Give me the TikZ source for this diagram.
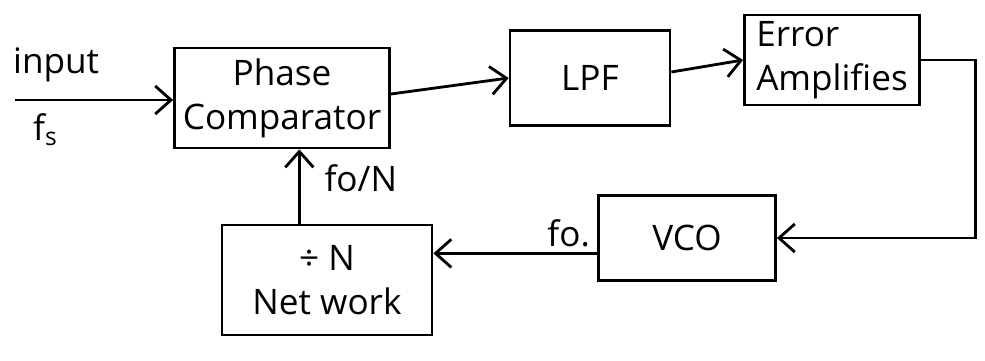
\documentclass[tikz,border=0pt]{standalone}
\usepackage{fontspec}
\setmainfont{Open Sans}
\usetikzlibrary{arrows.meta,calc}

\begin{document}
\begin{tikzpicture}[x=0.02cm, y=-0.02cm, line width=1.6pt,
  blk/.style={draw, rectangle, inner sep=0pt, align=center,
              font=\fontsize{20}{25}\selectfont},
  link/.style={-{Straight Barb[length=9pt,width=16pt,line width=1.6pt]}},
  lbl/.style={font=\fontsize{20}{24}\selectfont, inner sep=1pt}]
  \useasboundingbox (0,0) rectangle (985,360);

  % blocks of the phase-locked loop
  \node[blk, minimum width=4.3cm, minimum height=2cm]   (pc)  at (282,98)  {Phase\\Comparator};
  \node[blk, minimum width=3.2cm, minimum height=1.9cm] (lpf) at (590,78)  {LPF};
  \node[blk, minimum width=3.5cm, minimum height=1.8cm, align=left] (ea) at (832,60) {Error\\Amplifies};
  \node[blk, minimum width=3.54cm, minimum height=1.7cm] (vco) at (687,238) {VCO};
  \node[blk, minimum width=4.2cm, minimum height=2.2cm] (net) at (327,280) {÷ N\\Net work};

  % reference input
  \coordinate (in) at (15,100);
  \node[lbl, anchor=south west] (inlbl) at (10,85) {input};
  \node[lbl, anchor=north west] (fs) at (30,110) {f\textsubscript{s}};
  \draw[link] (in) -- (pc.west |- in);

  % forward path
  \draw[link] ($(pc.east)+(0,-4)$) -- (lpf.west);
  \draw[link] ($(lpf.east)+(0,-6)$) -- (ea.west);
  \draw[link] (ea.east) -- ++(55,0) |- (vco.east);

  % VCO output into the divider
  \coordinate (vo) at ($(vco.west)!0.35!(vco.south west)$);
  \draw[link] (vo) -- (net.east |- vo);
  \node[lbl, anchor=south east] (folbl) at ($(vo)+(-4,-3)$) {fo.};

  % divided feedback to the comparator
  \coordinate (fb) at ($(net.north west)!0.37!(net.north east)$);
  \draw[link] (fb) -- (fb |- pc.south);
  \node[lbl, anchor=west] (fnlbl) at ($(fb)+(22,-45)$) {fo/N};
\end{tikzpicture}
\end{document}
